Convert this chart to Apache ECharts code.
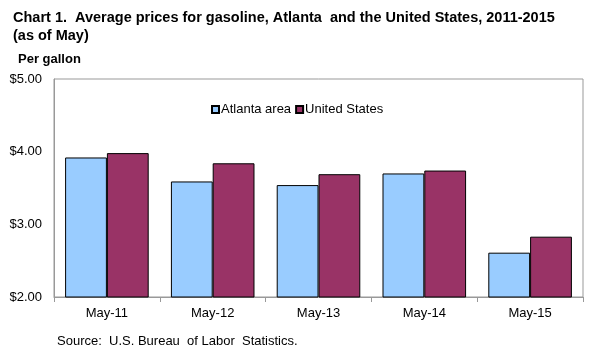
<!DOCTYPE html>
<html><head><meta charset="utf-8">
<script src="https://cdn.jsdelivr.net/npm/echarts@6/dist/echarts.min.js"></script>
<style>html,body{margin:0;padding:0;background:#fff}#c{width:596px;height:355px}</style>
</head><body><div id="c"></div>
<script>
const categories = ['May-11','May-12','May-13','May-14','May-15'];
const atlanta = [3.92, 3.59, 3.54, 3.70, 2.61];
const unitedStates = [3.98, 3.84, 3.69, 3.74, 2.83];
const seriesNames = ['Atlanta area', 'United States'];

const chart = echarts.init(document.getElementById('c'));
const F = 'Arial, "Liberation Sans", sans-serif';
chart.setOption({
  animation: false,
  backgroundColor: '#fff',
  title: [
    { text: 'Chart 1.  Average prices for gasoline, Atlanta  and the United States, 2011-2015\n(as of May)',
      left: 8, top: 4, textStyle: { fontFamily: F, fontWeight: 'bold', fontSize: 14.5, color: '#000', lineHeight: 18 } },
    { text: 'Per gallon', left: 13, top: 48, textStyle: { fontFamily: F, fontWeight: 'bold', fontSize: 13, color: '#000' } },
    { text: 'Source:  U.S. Bureau  of Labor  Statistics.', left: 52, top: 330, textStyle: { fontFamily: F, fontWeight: 'normal', fontSize: 13, color: '#000' } }
  ],
  legend: {
    data: seriesNames, left: 206, top: 98, itemWidth: 7, itemHeight: 7, itemGap: 4, icon: 'rect',
    textStyle: { fontFamily: F, fontSize: 13, color: '#000', padding: [0,0,0,-3] }
  },
  grid: { left: 54, right: 13, top: 79, bottom: 58, show: true, borderColor: '#999', borderWidth: 1 },
  xAxis: {
    type: 'category', data: categories,
    axisLine: { lineStyle: { color: '#999' } },
    axisTick: { show: true, length: 5, lineStyle: { color: '#999' } },
    axisLabel: { fontFamily: F, fontSize: 13, color: '#000', margin: 10 }
  },
  yAxis: {
    type: 'value', min: 2, max: 5, interval: 1,
    axisLine: { show: true, lineStyle: { color: '#999' } },
    axisTick: { show: false },
    splitLine: { show: false },
    axisLabel: { fontFamily: F, fontSize: 13, color: '#000', margin: 12, formatter: v => '$' + v.toFixed(2) }
  },
  series: [
    { name: seriesNames[0], type: 'bar', data: atlanta, barGap: '0%', barCategoryGap: '21%',
      itemStyle: { color: '#99CCFF', borderColor: '#000', borderWidth: 1 } },
    { name: seriesNames[1], type: 'bar', data: unitedStates,
      itemStyle: { color: '#993366', borderColor: '#000', borderWidth: 1 } }
  ]
});
</script></body></html>
